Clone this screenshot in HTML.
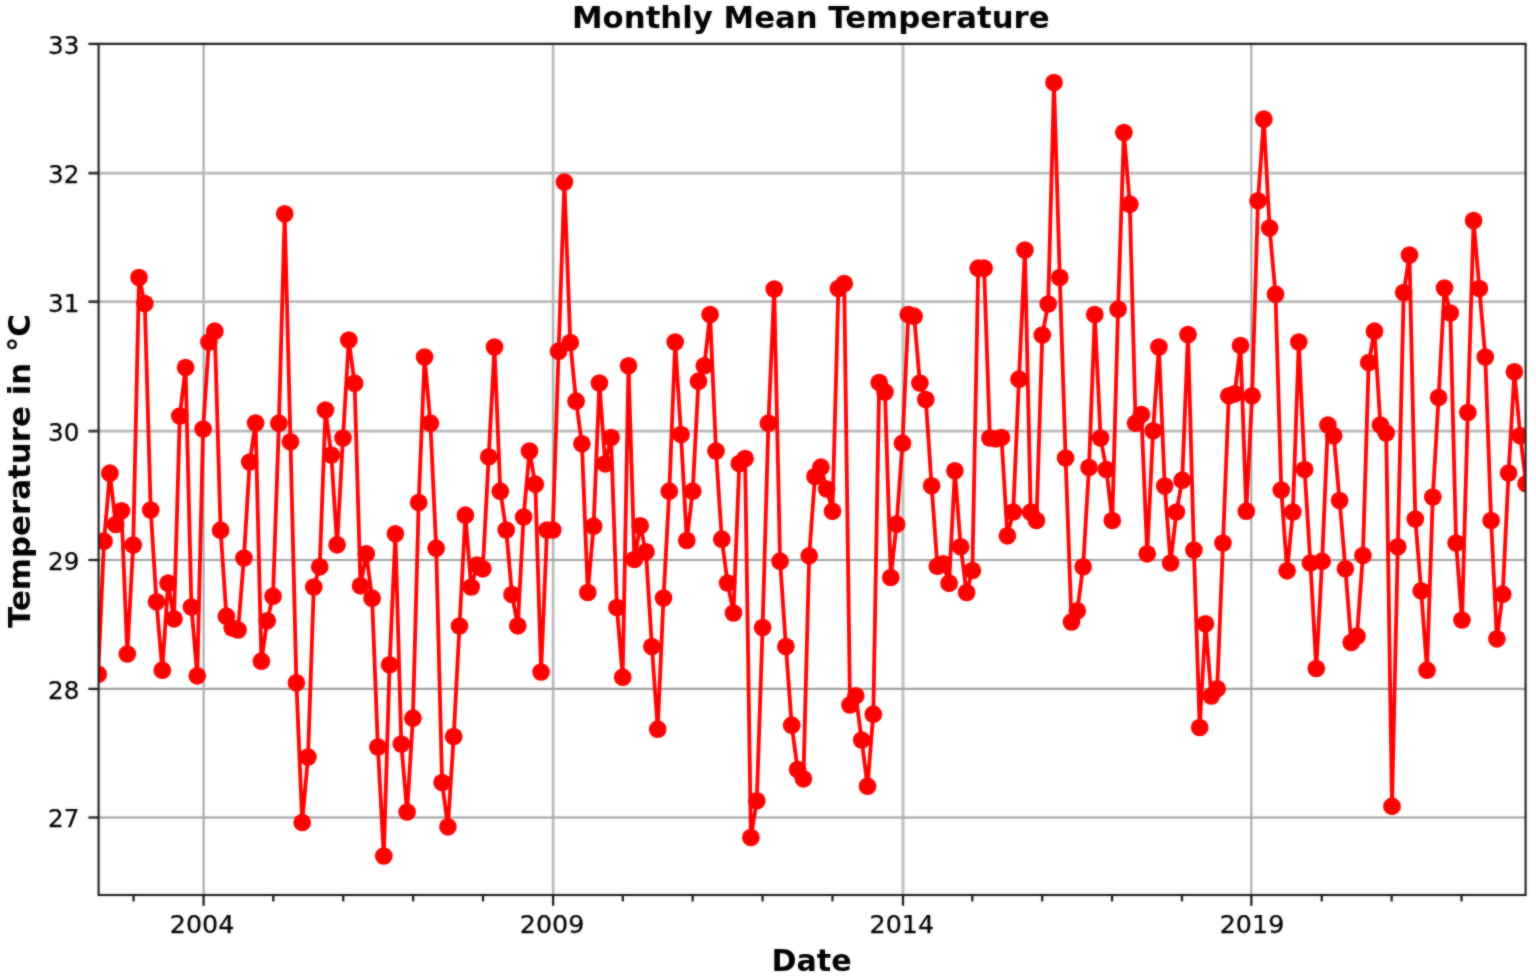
<!DOCTYPE html>
<html><head><meta charset="utf-8"><title>Monthly Mean Temperature</title>
<style>
html,body{margin:0;padding:0;background:#fff;}
body{width:1536px;height:979px;overflow:hidden;}
svg{display:block;}
text{font-family:"DejaVu Sans","Liberation Sans",sans-serif;fill:#000;}
.t{font-size:25.3px;stroke:#000;stroke-width:0.25px;}
.b{font-size:29.4px;font-weight:bold;}
</style></head><body>
<svg width="1536" height="979" viewBox="0 0 1536 979">
<defs><filter id="bl" x="0" y="0" width="1536" height="979" filterUnits="userSpaceOnUse" color-interpolation-filters="sRGB"><feGaussianBlur stdDeviation="0.8" result="b"/><feComposite in="SourceGraphic" in2="b" operator="arithmetic" k1="0" k2="0.5" k3="0.5" k4="0"/></filter>
<clipPath id="cp"><rect x="98.60" y="43.90" width="1427.00" height="851.10"/></clipPath></defs>
<g filter="url(#bl)">
<rect width="1536" height="979" fill="#fff"/>

<g fill="none">
<line x1="203.60" y1="43.90" x2="203.60" y2="895.00" stroke="#a4a4a4" stroke-width="2.0"/>
<line x1="553.10" y1="43.90" x2="553.10" y2="895.00" stroke="#b4b4b4" stroke-width="2.6"/>
<line x1="903.00" y1="43.90" x2="903.00" y2="895.00" stroke="#c0c0c0" stroke-width="3.1"/>
<line x1="1251.35" y1="43.90" x2="1251.35" y2="895.00" stroke="#a0a0a0" stroke-width="1.9"/>
</g>
<g fill="none">
<line x1="98.60" y1="817.50" x2="1525.60" y2="817.50" stroke="#a0a0a0" stroke-width="2.2"/>
<line x1="98.60" y1="688.90" x2="1525.60" y2="688.90" stroke="#a0a0a0" stroke-width="2.2"/>
<line x1="98.60" y1="560.00" x2="1525.60" y2="560.00" stroke="#a0a0a0" stroke-width="2.2"/>
<line x1="98.60" y1="431.10" x2="1525.60" y2="431.10" stroke="#b8b8b8" stroke-width="2.8"/>
<line x1="98.60" y1="301.70" x2="1525.60" y2="301.70" stroke="#b8b8b8" stroke-width="2.8"/>
<line x1="98.60" y1="173.15" x2="1525.60" y2="173.15" stroke="#b8b8b8" stroke-width="2.8"/>
<line x1="98.60" y1="43.90" x2="1525.60" y2="43.90" stroke="#a0a0a0" stroke-width="2.2"/>
</g>
<g clip-path="url(#cp)"><polyline points="98.2,674.2 104.0,541.2 109.9,473.2 115.7,524.5 121.5,510.8 127.3,654.0 133.2,545.0 139.0,277.5 144.8,303.5 150.7,510.0 156.5,601.8 162.3,670.2 168.1,583.2 174.0,618.8 179.8,416.0 185.6,367.5 191.4,607.0 197.3,675.8 203.1,429.0 208.9,342.0 214.8,331.2 220.6,530.2 226.4,616.2 232.2,628.0 238.1,630.0 243.9,558.0 249.7,462.0 255.6,423.0 261.4,661.2 267.2,620.8 273.0,596.2 278.9,423.2 284.7,213.8 290.5,441.8 296.4,682.8 302.2,822.5 308.0,757.0 313.8,587.0 319.7,566.8 325.5,410.0 331.3,455.0 337.1,544.8 343.0,438.0 348.8,340.0 354.6,383.2 360.5,585.8 366.3,553.8 372.1,598.2 377.9,747.0 383.8,856.0 389.6,664.8 395.4,533.8 401.3,744.0 407.1,812.0 412.9,718.2 418.7,502.5 424.6,357.0 430.4,423.2 436.2,548.2 442.1,782.5 447.9,826.8 453.7,736.5 459.5,626.0 465.4,515.2 471.2,587.0 477.0,565.0 482.8,568.8 488.7,456.8 494.5,347.0 500.3,491.2 506.2,530.0 512.0,594.5 517.8,625.8 523.6,517.0 529.5,451.0 535.3,484.2 541.1,672.0 547.0,530.0 552.8,530.0 558.6,351.2 564.4,182.0 570.3,342.5 576.1,401.2 581.9,443.8 587.8,592.5 593.6,526.2 599.4,383.0 605.2,463.8 611.1,437.5 616.9,607.5 622.7,677.2 628.5,365.8 634.4,559.5 640.2,525.8 646.0,551.8 651.9,646.5 657.7,729.2 663.5,598.0 669.3,491.2 675.2,342.0 681.0,434.5 686.8,540.5 692.7,491.2 698.5,381.2 704.3,365.8 710.1,314.5 716.0,451.0 721.8,539.2 727.6,583.0 733.5,613.0 739.3,463.5 745.1,458.5 750.9,837.5 756.8,800.8 762.6,627.5 768.4,423.2 774.2,289.0 780.1,561.2 785.9,646.5 791.7,725.2 797.6,769.5 803.4,778.8 809.2,555.8 815.0,476.5 820.9,467.2 826.7,489.0 832.5,511.2 838.4,288.5 844.2,283.5 850.0,705.0 855.8,695.8 861.7,740.0 867.5,786.2 873.3,714.2 879.2,382.5 885.0,392.0 890.8,577.5 896.6,524.2 902.5,443.2 908.3,314.5 914.1,316.2 919.9,383.0 925.8,399.5 931.6,485.8 937.4,566.2 943.3,563.8 949.1,583.2 954.9,470.8 960.7,546.8 966.6,592.5 972.4,570.5 978.2,268.2 984.1,268.2 989.9,438.0 995.7,438.8 1001.5,437.5 1007.4,535.8 1013.2,512.0 1019.0,379.2 1024.9,250.0 1030.7,512.2 1036.5,520.5 1042.3,335.0 1048.2,304.0 1054.0,82.5 1059.8,277.5 1065.6,458.0 1071.5,622.0 1077.3,610.8 1083.1,566.8 1089.0,467.5 1094.8,314.5 1100.6,438.0 1106.4,469.5 1112.3,520.5 1118.1,309.2 1123.9,132.5 1129.8,204.2 1135.6,423.2 1141.4,414.5 1147.2,553.8 1153.1,430.8 1158.9,347.0 1164.7,486.0 1170.6,563.0 1176.4,512.0 1182.2,480.2 1188.0,334.5 1193.9,550.0 1199.7,727.5 1205.5,623.8 1211.3,696.0 1217.2,688.8 1223.0,543.0 1228.8,395.8 1234.7,393.8 1240.5,345.5 1246.3,511.2 1252.1,395.8 1258.0,200.8 1263.8,119.2 1269.6,228.0 1275.5,294.2 1281.3,490.0 1287.1,570.8 1292.9,512.0 1298.8,342.0 1304.6,469.5 1310.4,563.0 1316.3,668.5 1322.1,561.2 1327.9,425.0 1333.7,435.8 1339.6,500.5 1345.4,568.8 1351.2,642.5 1357.0,636.2 1362.9,555.5 1368.7,362.5 1374.5,331.2 1380.4,425.0 1386.2,433.0 1392.0,806.2 1397.8,546.8 1403.7,292.5 1409.5,255.0 1415.3,519.0 1421.2,590.8 1427.0,670.2 1432.8,497.0 1438.6,397.5 1444.5,288.0 1450.3,313.0 1456.1,543.0 1462.0,620.0 1467.8,412.5 1473.6,220.5 1479.4,288.5 1485.3,357.0 1491.1,520.5 1496.9,638.8 1502.7,594.2 1508.6,473.0 1514.4,371.8 1520.2,435.8 1526.1,483.8" fill="none" stroke="#f00" stroke-width="3.8" stroke-linejoin="round"/>
<g fill="#f00">
<circle cx="98.2" cy="674.2" r="8.85"/>
<circle cx="104.0" cy="541.2" r="8.85"/>
<circle cx="109.9" cy="473.2" r="8.85"/>
<circle cx="115.7" cy="524.5" r="8.85"/>
<circle cx="121.5" cy="510.8" r="8.85"/>
<circle cx="127.3" cy="654.0" r="8.85"/>
<circle cx="133.2" cy="545.0" r="8.85"/>
<circle cx="139.0" cy="277.5" r="8.85"/>
<circle cx="144.8" cy="303.5" r="8.85"/>
<circle cx="150.7" cy="510.0" r="8.85"/>
<circle cx="156.5" cy="601.8" r="8.85"/>
<circle cx="162.3" cy="670.2" r="8.85"/>
<circle cx="168.1" cy="583.2" r="8.85"/>
<circle cx="174.0" cy="618.8" r="8.85"/>
<circle cx="179.8" cy="416.0" r="8.85"/>
<circle cx="185.6" cy="367.5" r="8.85"/>
<circle cx="191.4" cy="607.0" r="8.85"/>
<circle cx="197.3" cy="675.8" r="8.85"/>
<circle cx="203.1" cy="429.0" r="8.85"/>
<circle cx="208.9" cy="342.0" r="8.85"/>
<circle cx="214.8" cy="331.2" r="8.85"/>
<circle cx="220.6" cy="530.2" r="8.85"/>
<circle cx="226.4" cy="616.2" r="8.85"/>
<circle cx="232.2" cy="628.0" r="8.85"/>
<circle cx="238.1" cy="630.0" r="8.85"/>
<circle cx="243.9" cy="558.0" r="8.85"/>
<circle cx="249.7" cy="462.0" r="8.85"/>
<circle cx="255.6" cy="423.0" r="8.85"/>
<circle cx="261.4" cy="661.2" r="8.85"/>
<circle cx="267.2" cy="620.8" r="8.85"/>
<circle cx="273.0" cy="596.2" r="8.85"/>
<circle cx="278.9" cy="423.2" r="8.85"/>
<circle cx="284.7" cy="213.8" r="8.85"/>
<circle cx="290.5" cy="441.8" r="8.85"/>
<circle cx="296.4" cy="682.8" r="8.85"/>
<circle cx="302.2" cy="822.5" r="8.85"/>
<circle cx="308.0" cy="757.0" r="8.85"/>
<circle cx="313.8" cy="587.0" r="8.85"/>
<circle cx="319.7" cy="566.8" r="8.85"/>
<circle cx="325.5" cy="410.0" r="8.85"/>
<circle cx="331.3" cy="455.0" r="8.85"/>
<circle cx="337.1" cy="544.8" r="8.85"/>
<circle cx="343.0" cy="438.0" r="8.85"/>
<circle cx="348.8" cy="340.0" r="8.85"/>
<circle cx="354.6" cy="383.2" r="8.85"/>
<circle cx="360.5" cy="585.8" r="8.85"/>
<circle cx="366.3" cy="553.8" r="8.85"/>
<circle cx="372.1" cy="598.2" r="8.85"/>
<circle cx="377.9" cy="747.0" r="8.85"/>
<circle cx="383.8" cy="856.0" r="8.85"/>
<circle cx="389.6" cy="664.8" r="8.85"/>
<circle cx="395.4" cy="533.8" r="8.85"/>
<circle cx="401.3" cy="744.0" r="8.85"/>
<circle cx="407.1" cy="812.0" r="8.85"/>
<circle cx="412.9" cy="718.2" r="8.85"/>
<circle cx="418.7" cy="502.5" r="8.85"/>
<circle cx="424.6" cy="357.0" r="8.85"/>
<circle cx="430.4" cy="423.2" r="8.85"/>
<circle cx="436.2" cy="548.2" r="8.85"/>
<circle cx="442.1" cy="782.5" r="8.85"/>
<circle cx="447.9" cy="826.8" r="8.85"/>
<circle cx="453.7" cy="736.5" r="8.85"/>
<circle cx="459.5" cy="626.0" r="8.85"/>
<circle cx="465.4" cy="515.2" r="8.85"/>
<circle cx="471.2" cy="587.0" r="8.85"/>
<circle cx="477.0" cy="565.0" r="8.85"/>
<circle cx="482.8" cy="568.8" r="8.85"/>
<circle cx="488.7" cy="456.8" r="8.85"/>
<circle cx="494.5" cy="347.0" r="8.85"/>
<circle cx="500.3" cy="491.2" r="8.85"/>
<circle cx="506.2" cy="530.0" r="8.85"/>
<circle cx="512.0" cy="594.5" r="8.85"/>
<circle cx="517.8" cy="625.8" r="8.85"/>
<circle cx="523.6" cy="517.0" r="8.85"/>
<circle cx="529.5" cy="451.0" r="8.85"/>
<circle cx="535.3" cy="484.2" r="8.85"/>
<circle cx="541.1" cy="672.0" r="8.85"/>
<circle cx="547.0" cy="530.0" r="8.85"/>
<circle cx="552.8" cy="530.0" r="8.85"/>
<circle cx="558.6" cy="351.2" r="8.85"/>
<circle cx="564.4" cy="182.0" r="8.85"/>
<circle cx="570.3" cy="342.5" r="8.85"/>
<circle cx="576.1" cy="401.2" r="8.85"/>
<circle cx="581.9" cy="443.8" r="8.85"/>
<circle cx="587.8" cy="592.5" r="8.85"/>
<circle cx="593.6" cy="526.2" r="8.85"/>
<circle cx="599.4" cy="383.0" r="8.85"/>
<circle cx="605.2" cy="463.8" r="8.85"/>
<circle cx="611.1" cy="437.5" r="8.85"/>
<circle cx="616.9" cy="607.5" r="8.85"/>
<circle cx="622.7" cy="677.2" r="8.85"/>
<circle cx="628.5" cy="365.8" r="8.85"/>
<circle cx="634.4" cy="559.5" r="8.85"/>
<circle cx="640.2" cy="525.8" r="8.85"/>
<circle cx="646.0" cy="551.8" r="8.85"/>
<circle cx="651.9" cy="646.5" r="8.85"/>
<circle cx="657.7" cy="729.2" r="8.85"/>
<circle cx="663.5" cy="598.0" r="8.85"/>
<circle cx="669.3" cy="491.2" r="8.85"/>
<circle cx="675.2" cy="342.0" r="8.85"/>
<circle cx="681.0" cy="434.5" r="8.85"/>
<circle cx="686.8" cy="540.5" r="8.85"/>
<circle cx="692.7" cy="491.2" r="8.85"/>
<circle cx="698.5" cy="381.2" r="8.85"/>
<circle cx="704.3" cy="365.8" r="8.85"/>
<circle cx="710.1" cy="314.5" r="8.85"/>
<circle cx="716.0" cy="451.0" r="8.85"/>
<circle cx="721.8" cy="539.2" r="8.85"/>
<circle cx="727.6" cy="583.0" r="8.85"/>
<circle cx="733.5" cy="613.0" r="8.85"/>
<circle cx="739.3" cy="463.5" r="8.85"/>
<circle cx="745.1" cy="458.5" r="8.85"/>
<circle cx="750.9" cy="837.5" r="8.85"/>
<circle cx="756.8" cy="800.8" r="8.85"/>
<circle cx="762.6" cy="627.5" r="8.85"/>
<circle cx="768.4" cy="423.2" r="8.85"/>
<circle cx="774.2" cy="289.0" r="8.85"/>
<circle cx="780.1" cy="561.2" r="8.85"/>
<circle cx="785.9" cy="646.5" r="8.85"/>
<circle cx="791.7" cy="725.2" r="8.85"/>
<circle cx="797.6" cy="769.5" r="8.85"/>
<circle cx="803.4" cy="778.8" r="8.85"/>
<circle cx="809.2" cy="555.8" r="8.85"/>
<circle cx="815.0" cy="476.5" r="8.85"/>
<circle cx="820.9" cy="467.2" r="8.85"/>
<circle cx="826.7" cy="489.0" r="8.85"/>
<circle cx="832.5" cy="511.2" r="8.85"/>
<circle cx="838.4" cy="288.5" r="8.85"/>
<circle cx="844.2" cy="283.5" r="8.85"/>
<circle cx="850.0" cy="705.0" r="8.85"/>
<circle cx="855.8" cy="695.8" r="8.85"/>
<circle cx="861.7" cy="740.0" r="8.85"/>
<circle cx="867.5" cy="786.2" r="8.85"/>
<circle cx="873.3" cy="714.2" r="8.85"/>
<circle cx="879.2" cy="382.5" r="8.85"/>
<circle cx="885.0" cy="392.0" r="8.85"/>
<circle cx="890.8" cy="577.5" r="8.85"/>
<circle cx="896.6" cy="524.2" r="8.85"/>
<circle cx="902.5" cy="443.2" r="8.85"/>
<circle cx="908.3" cy="314.5" r="8.85"/>
<circle cx="914.1" cy="316.2" r="8.85"/>
<circle cx="919.9" cy="383.0" r="8.85"/>
<circle cx="925.8" cy="399.5" r="8.85"/>
<circle cx="931.6" cy="485.8" r="8.85"/>
<circle cx="937.4" cy="566.2" r="8.85"/>
<circle cx="943.3" cy="563.8" r="8.85"/>
<circle cx="949.1" cy="583.2" r="8.85"/>
<circle cx="954.9" cy="470.8" r="8.85"/>
<circle cx="960.7" cy="546.8" r="8.85"/>
<circle cx="966.6" cy="592.5" r="8.85"/>
<circle cx="972.4" cy="570.5" r="8.85"/>
<circle cx="978.2" cy="268.2" r="8.85"/>
<circle cx="984.1" cy="268.2" r="8.85"/>
<circle cx="989.9" cy="438.0" r="8.85"/>
<circle cx="995.7" cy="438.8" r="8.85"/>
<circle cx="1001.5" cy="437.5" r="8.85"/>
<circle cx="1007.4" cy="535.8" r="8.85"/>
<circle cx="1013.2" cy="512.0" r="8.85"/>
<circle cx="1019.0" cy="379.2" r="8.85"/>
<circle cx="1024.9" cy="250.0" r="8.85"/>
<circle cx="1030.7" cy="512.2" r="8.85"/>
<circle cx="1036.5" cy="520.5" r="8.85"/>
<circle cx="1042.3" cy="335.0" r="8.85"/>
<circle cx="1048.2" cy="304.0" r="8.85"/>
<circle cx="1054.0" cy="82.5" r="8.85"/>
<circle cx="1059.8" cy="277.5" r="8.85"/>
<circle cx="1065.6" cy="458.0" r="8.85"/>
<circle cx="1071.5" cy="622.0" r="8.85"/>
<circle cx="1077.3" cy="610.8" r="8.85"/>
<circle cx="1083.1" cy="566.8" r="8.85"/>
<circle cx="1089.0" cy="467.5" r="8.85"/>
<circle cx="1094.8" cy="314.5" r="8.85"/>
<circle cx="1100.6" cy="438.0" r="8.85"/>
<circle cx="1106.4" cy="469.5" r="8.85"/>
<circle cx="1112.3" cy="520.5" r="8.85"/>
<circle cx="1118.1" cy="309.2" r="8.85"/>
<circle cx="1123.9" cy="132.5" r="8.85"/>
<circle cx="1129.8" cy="204.2" r="8.85"/>
<circle cx="1135.6" cy="423.2" r="8.85"/>
<circle cx="1141.4" cy="414.5" r="8.85"/>
<circle cx="1147.2" cy="553.8" r="8.85"/>
<circle cx="1153.1" cy="430.8" r="8.85"/>
<circle cx="1158.9" cy="347.0" r="8.85"/>
<circle cx="1164.7" cy="486.0" r="8.85"/>
<circle cx="1170.6" cy="563.0" r="8.85"/>
<circle cx="1176.4" cy="512.0" r="8.85"/>
<circle cx="1182.2" cy="480.2" r="8.85"/>
<circle cx="1188.0" cy="334.5" r="8.85"/>
<circle cx="1193.9" cy="550.0" r="8.85"/>
<circle cx="1199.7" cy="727.5" r="8.85"/>
<circle cx="1205.5" cy="623.8" r="8.85"/>
<circle cx="1211.3" cy="696.0" r="8.85"/>
<circle cx="1217.2" cy="688.8" r="8.85"/>
<circle cx="1223.0" cy="543.0" r="8.85"/>
<circle cx="1228.8" cy="395.8" r="8.85"/>
<circle cx="1234.7" cy="393.8" r="8.85"/>
<circle cx="1240.5" cy="345.5" r="8.85"/>
<circle cx="1246.3" cy="511.2" r="8.85"/>
<circle cx="1252.1" cy="395.8" r="8.85"/>
<circle cx="1258.0" cy="200.8" r="8.85"/>
<circle cx="1263.8" cy="119.2" r="8.85"/>
<circle cx="1269.6" cy="228.0" r="8.85"/>
<circle cx="1275.5" cy="294.2" r="8.85"/>
<circle cx="1281.3" cy="490.0" r="8.85"/>
<circle cx="1287.1" cy="570.8" r="8.85"/>
<circle cx="1292.9" cy="512.0" r="8.85"/>
<circle cx="1298.8" cy="342.0" r="8.85"/>
<circle cx="1304.6" cy="469.5" r="8.85"/>
<circle cx="1310.4" cy="563.0" r="8.85"/>
<circle cx="1316.3" cy="668.5" r="8.85"/>
<circle cx="1322.1" cy="561.2" r="8.85"/>
<circle cx="1327.9" cy="425.0" r="8.85"/>
<circle cx="1333.7" cy="435.8" r="8.85"/>
<circle cx="1339.6" cy="500.5" r="8.85"/>
<circle cx="1345.4" cy="568.8" r="8.85"/>
<circle cx="1351.2" cy="642.5" r="8.85"/>
<circle cx="1357.0" cy="636.2" r="8.85"/>
<circle cx="1362.9" cy="555.5" r="8.85"/>
<circle cx="1368.7" cy="362.5" r="8.85"/>
<circle cx="1374.5" cy="331.2" r="8.85"/>
<circle cx="1380.4" cy="425.0" r="8.85"/>
<circle cx="1386.2" cy="433.0" r="8.85"/>
<circle cx="1392.0" cy="806.2" r="8.85"/>
<circle cx="1397.8" cy="546.8" r="8.85"/>
<circle cx="1403.7" cy="292.5" r="8.85"/>
<circle cx="1409.5" cy="255.0" r="8.85"/>
<circle cx="1415.3" cy="519.0" r="8.85"/>
<circle cx="1421.2" cy="590.8" r="8.85"/>
<circle cx="1427.0" cy="670.2" r="8.85"/>
<circle cx="1432.8" cy="497.0" r="8.85"/>
<circle cx="1438.6" cy="397.5" r="8.85"/>
<circle cx="1444.5" cy="288.0" r="8.85"/>
<circle cx="1450.3" cy="313.0" r="8.85"/>
<circle cx="1456.1" cy="543.0" r="8.85"/>
<circle cx="1462.0" cy="620.0" r="8.85"/>
<circle cx="1467.8" cy="412.5" r="8.85"/>
<circle cx="1473.6" cy="220.5" r="8.85"/>
<circle cx="1479.4" cy="288.5" r="8.85"/>
<circle cx="1485.3" cy="357.0" r="8.85"/>
<circle cx="1491.1" cy="520.5" r="8.85"/>
<circle cx="1496.9" cy="638.8" r="8.85"/>
<circle cx="1502.7" cy="594.2" r="8.85"/>
<circle cx="1508.6" cy="473.0" r="8.85"/>
<circle cx="1514.4" cy="371.8" r="8.85"/>
<circle cx="1520.2" cy="435.8" r="8.85"/>
<circle cx="1526.1" cy="483.8" r="8.85"/>
</g></g>
<g stroke="#1c1c1c" stroke-width="2.3" fill="none">
<line x1="133.55" y1="895.00" x2="133.55" y2="901.40"/>
<line x1="203.60" y1="895.00" x2="203.60" y2="905.80"/>
<line x1="273.33" y1="895.00" x2="273.33" y2="901.40"/>
<line x1="343.23" y1="895.00" x2="343.23" y2="901.40"/>
<line x1="413.12" y1="895.00" x2="413.12" y2="901.40"/>
<line x1="483.02" y1="895.00" x2="483.02" y2="901.40"/>
<line x1="553.10" y1="895.00" x2="553.10" y2="905.80"/>
<line x1="622.80" y1="895.00" x2="622.80" y2="901.40"/>
<line x1="692.70" y1="895.00" x2="692.70" y2="901.40"/>
<line x1="762.59" y1="895.00" x2="762.59" y2="901.40"/>
<line x1="832.49" y1="895.00" x2="832.49" y2="901.40"/>
<line x1="903.00" y1="895.00" x2="903.00" y2="905.80"/>
<line x1="972.27" y1="895.00" x2="972.27" y2="901.40"/>
<line x1="1042.17" y1="895.00" x2="1042.17" y2="901.40"/>
<line x1="1112.06" y1="895.00" x2="1112.06" y2="901.40"/>
<line x1="1181.96" y1="895.00" x2="1181.96" y2="901.40"/>
<line x1="1251.35" y1="895.00" x2="1251.35" y2="905.80"/>
<line x1="1321.74" y1="895.00" x2="1321.74" y2="901.40"/>
<line x1="1391.64" y1="895.00" x2="1391.64" y2="901.40"/>
<line x1="1461.53" y1="895.00" x2="1461.53" y2="901.40"/>
<line x1="88.40" y1="817.50" x2="98.60" y2="817.50"/>
<line x1="88.40" y1="688.90" x2="98.60" y2="688.90"/>
<line x1="88.40" y1="560.00" x2="98.60" y2="560.00"/>
<line x1="88.40" y1="431.10" x2="98.60" y2="431.10" stroke="#3a3a3a" stroke-width="2.9"/>
<line x1="88.40" y1="301.70" x2="98.60" y2="301.70" stroke="#3a3a3a" stroke-width="2.9"/>
<line x1="88.40" y1="173.15" x2="98.60" y2="173.15" stroke="#3a3a3a" stroke-width="2.9"/>
<line x1="88.40" y1="43.90" x2="98.60" y2="43.90"/>
</g>
<rect x="98.60" y="43.90" width="1427.00" height="851.10" fill="none" stroke="#1c1c1c" stroke-width="2.1"/>
<text class="t" x="202.10" y="933.0" text-anchor="middle" textLength="64.6" lengthAdjust="spacingAndGlyphs">2004</text>
<text class="t" x="552.10" y="933.0" text-anchor="middle" textLength="64.6" lengthAdjust="spacingAndGlyphs">2009</text>
<text class="t" x="901.80" y="933.0" text-anchor="middle" textLength="64.6" lengthAdjust="spacingAndGlyphs">2014</text>
<text class="t" x="1252.00" y="933.0" text-anchor="middle" textLength="64.6" lengthAdjust="spacingAndGlyphs">2019</text>
<text class="t" x="79.3" y="827.40" text-anchor="end" textLength="31.3" lengthAdjust="spacingAndGlyphs">27</text>
<text class="t" x="79.3" y="698.80" text-anchor="end" textLength="31.3" lengthAdjust="spacingAndGlyphs">28</text>
<text class="t" x="79.3" y="569.90" text-anchor="end" textLength="31.3" lengthAdjust="spacingAndGlyphs">29</text>
<text class="t" x="79.3" y="441.00" text-anchor="end" textLength="31.3" lengthAdjust="spacingAndGlyphs">30</text>
<text class="t" x="79.3" y="311.60" text-anchor="end" textLength="31.3" lengthAdjust="spacingAndGlyphs">31</text>
<text class="t" x="79.3" y="183.05" text-anchor="end" textLength="31.3" lengthAdjust="spacingAndGlyphs">32</text>
<text class="t" x="79.3" y="53.80" text-anchor="end" textLength="31.3" lengthAdjust="spacingAndGlyphs">33</text>
<text class="b" x="810.8" y="27.9" text-anchor="middle" textLength="477.6" lengthAdjust="spacingAndGlyphs">Monthly Mean Temperature</text>
<text class="b" x="811.5" y="970.6" text-anchor="middle" textLength="80.2" lengthAdjust="spacingAndGlyphs">Date</text>
<text class="b" transform="translate(29.7 471.0) rotate(-90)" text-anchor="middle" textLength="314" lengthAdjust="spacingAndGlyphs">Temperature in °C</text>
</g></svg></body></html>
